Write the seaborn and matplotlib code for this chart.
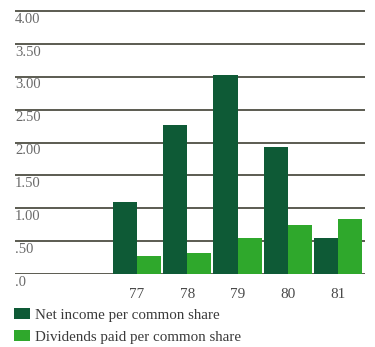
import matplotlib
matplotlib.use("Agg")
import matplotlib.pyplot as plt
import seaborn as sns
import pandas as pd
from matplotlib.patches import Patch
from matplotlib.transforms import blended_transform_factory, ScaledTranslation

# Per-share figures, fiscal years 1977-1981
years = ["77", "78", "79", "80", "81"]
net_income = [1.10, 2.27, 3.03, 1.93, 0.55]
dividends = [0.28, 0.32, 0.55, 0.74, 0.83]
series_names = ["Net income per common share", "Dividends paid per common share"]
y_ticks = [0.0, 0.5, 1.0, 1.5, 2.0, 2.5, 3.0, 3.5, 4.0]
y_tick_labels = [".0", ".50", "1.00", "1.50", "2.00", "2.50", "3.00", "3.50", "4.00"]

df = pd.DataFrame({
    "year": years * 2,
    "value": net_income + dividends,
    "series": [series_names[0]] * len(years) + [series_names[1]] * len(years),
})

dark_green = "#0e5a36"
light_green = "#2fa82c"
text_grey = "#6a6a6a"
serif = ["Liberation Serif", "DejaVu Serif"]

sns.set_theme(style="white")
plt.rcParams["font.family"] = serif

fig = plt.figure(figsize=(3.75, 3.47), dpi=100)
ax = fig.add_axes([15 / 375, 1 - 274 / 347, 350 / 375, 264 / 347])

# Horizontal rules behind the bars
for v in y_ticks:
    ax.axhline(v, color="#2f2f22", lw=1.1, zorder=0)

sns.barplot(data=df, x="year", y="value", hue="series",
            palette=[dark_green, light_green], width=0.96,
            saturation=1, legend=False, ax=ax, zorder=2)
for p in ax.patches:
    p.set_edgecolor("none")

ax.set_xlim(-2.42, 4.53)
ax.set_ylim(0, 4.02)
for s in ax.spines.values():
    s.set_visible(False)
ax.set_xlabel("")
ax.set_ylabel("")
ax.set_yticks([])
ax.tick_params(axis="x", length=0, pad=10, labelsize=11, labelcolor="#4a4a4a")

# Value labels sit just under each rule at the left edge
trans = blended_transform_factory(ax.transAxes, ax.transData) + \
    ScaledTranslation(0, -1.5 / 100, fig.dpi_scale_trans)
for v, lab in zip(y_ticks, y_tick_labels):
    ax.text(0.0, v, lab, transform=trans, ha="left", va="top",
            fontsize=10.5, color=text_grey)

handles = [Patch(facecolor=dark_green, edgecolor="none"),
           Patch(facecolor=light_green, edgecolor="none")]
fig.legend(handles, series_names, loc="upper left",
           bbox_to_anchor=(5 / 375, 1 - 299 / 347), frameon=False,
           fontsize=10.8, handlelength=1.05, handleheight=0.75,
           handletextpad=0.35, labelspacing=0.55, labelcolor="#3a3a3a",
           borderaxespad=0.2)

fig.savefig("out.png", dpi=100)
